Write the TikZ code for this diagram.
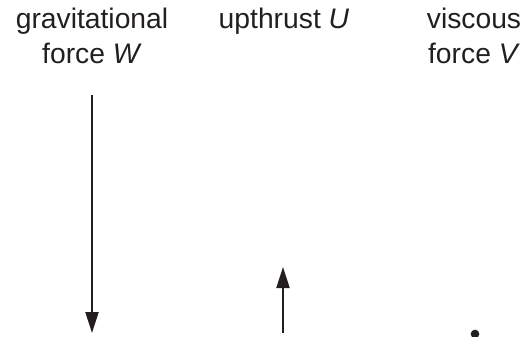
\documentclass[tikz,border=0pt]{standalone}
\usepackage{fontspec}
\setmainfont{Liberation Sans}
\usetikzlibrary{arrows.meta}
\definecolor{ink}{HTML}{231F20}

\begin{document}
\begin{tikzpicture}[
		x=0.75pt, y=-0.75pt,
		forcename/.style={align=center, anchor=base, inner sep=0pt, text=ink, font=\fontsize{21.2pt}{26.25pt}\selectfont},
		forcearrow/.style={draw=ink, line width=1.6pt, -{Triangle[length=15.75pt, width=9.75pt]}}
	]
		\useasboundingbox (0,0) rectangle (527,336);

		% anchor=base sits on the last line
		\node[forcename] (wlab) at (92,63) {gravitational\\force \textit{W}};
		\node[forcename] (ulab) at (284,28) {upthrust \textit{U}};
		\node[forcename] (vlab) at (474,63) {viscous\\force \textit{V}};

		\coordinate (wtop) at (92,95);
		\coordinate (wtip) at (92,333);
		\coordinate (ubot) at (283,333);
		\coordinate (utip) at (283,267);
		\node[circle, fill=ink, inner sep=0pt, minimum size=6.5pt] (vdot) at (475,334) {};

		\draw[forcearrow] (wtop) -- (wtip);
		\draw[forcearrow] (ubot) -- (utip);
	\end{tikzpicture}
\end{document}
